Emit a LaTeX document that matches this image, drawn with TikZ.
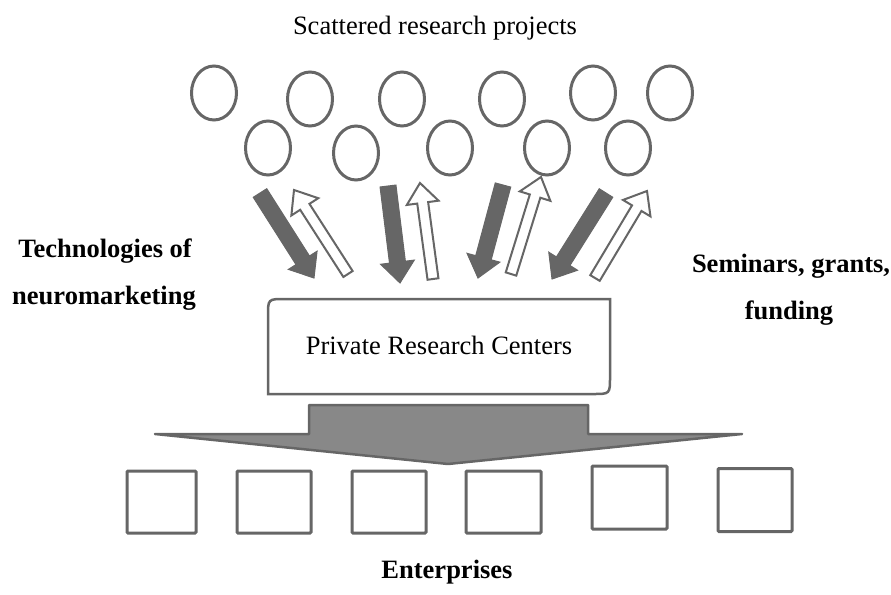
\documentclass[tikz,border=0pt]{standalone}
\usepackage{fontspec}
\IfFontExistsTF{Liberation Serif}{\setmainfont{Liberation Serif}}{\setmainfont{DejaVu Serif}}
\usetikzlibrary{calc,shapes.geometric}
\definecolor{lg}{RGB}{102,102,102}
\definecolor{bigfill}{RGB}{136,136,136}
\newcommand\blockarrow[6]{%
  \coordinate (hb) at ($(#3)!#6!(#2)$);
  \draw[#1] ($(#2)!#4!90:(#3)$) -- ($(hb)!#4!90:(#3)$) -- ($(hb)!#5!90:(#3)$) -- (#3)
    -- ($(hb)!#5!-90:(#3)$) -- ($(hb)!#4!-90:(#3)$) -- ($(#2)!#4!-90:(#3)$) -- cycle;}
\begin{document}
\begin{tikzpicture}[x=1pt,y=-1pt,
  proj/.style={draw=lg, line width=3pt, ellipse, minimum width=45pt, minimum height=54pt, inner sep=0pt},
  ent/.style={draw=lg, line width=3pt, rounded corners=1pt},
  solidarr/.style={draw=lg, fill=lg, line width=1pt, line join=miter},
  hollowarr/.style={draw=lg, fill=white, line width=2pt, line join=miter},
  txt/.style={font=\rmfamily\fontsize{26.5}{30}\selectfont, inner sep=0pt},
  btxt/.style={font=\rmfamily\fontsize{26.5}{30}\selectfont\bfseries, inner sep=0pt, align=center}]
\useasboundingbox (0,0) rectangle (891,594);

% title
\node[txt] (title) at (435,28) {Scattered research projects};

% projects
\node[proj] (c1) at (214,93) {};
\node[proj] (c2) at (310,99) {};
\node[proj] (c3) at (402,99) {};
\node[proj] (c4) at (502,99) {};
\node[proj] (c5) at (593,93) {};
\node[proj] (c6) at (670,93) {};
\node[proj] (c7) at (268,148) {};
\node[proj] (c8) at (356,153) {};
\node[proj] (c9) at (450,148) {};
\node[proj] (c10) at (547,148) {};
\node[proj] (c11) at (628,148) {};

% side labels
\node[btxt] (tech1) at (105,251) {Technologies of};
\node[btxt] (tech2) at (104,298) {neuromarketing};
\node[btxt] (sem1) at (791,266) {Seminars, grants,};
\node[btxt] (sem2) at (789,313) {funding};

% arrows
\coordinate (a1s) at (260,193); \coordinate (a1e) at (314,278);
\coordinate (h1s) at (348,274); \coordinate (h1e) at (294,190);
\coordinate (a2s) at (388,186); \coordinate (a2e) at (400,283);
\coordinate (h2s) at (433,279); \coordinate (h2e) at (420,183);
\coordinate (a3s) at (503,185); \coordinate (a3e) at (478,278);
\coordinate (h3s) at (511,274); \coordinate (h3e) at (541,177);
\coordinate (a4s) at (606,193); \coordinate (a4e) at (552,279);
\coordinate (h4s) at (595,278); \coordinate (h4e) at (647,191);
\blockarrow{solidarr}{a1s}{a1e}{8pt}{17pt}{21pt}
\blockarrow{hollowarr}{h1s}{h1e}{5.5pt}{16pt}{20pt}
\blockarrow{solidarr}{a2s}{a2e}{8pt}{17pt}{21pt}
\blockarrow{hollowarr}{h2s}{h2e}{5.5pt}{16pt}{20pt}
\blockarrow{solidarr}{a3s}{a3e}{8pt}{17pt}{21pt}
\blockarrow{hollowarr}{h3s}{h3e}{5.5pt}{16pt}{20pt}
\blockarrow{solidarr}{a4s}{a4e}{8pt}{17pt}{21pt}
\blockarrow{hollowarr}{h4s}{h4e}{5.5pt}{16pt}{20pt}

% private research centers box
\draw[draw=lg, line width=2.5pt, fill=white]
  (268,394) -- (268,316) .. controls (268,299) .. (285,299) -- (610,299) -- (610,377)
  .. controls (610,394) .. (593,394) -- cycle;
\node[txt] (prc) at (439,345) {Private Research Centers};

% big distribution arrow
\draw[draw=lg, fill=bigfill, line width=2.5pt, line join=round]
  (309,405) -- (588,405) -- (588,434) -- (742,434) -- (448,464) -- (155,434) -- (309,434) -- cycle;

% enterprises
\node[ent, minimum width=69pt, minimum height=62pt, inner sep=0pt] (e1) at (161.5,502) {};
\node[ent, minimum width=74pt, minimum height=62pt, inner sep=0pt] (e2) at (274,502) {};
\node[ent, minimum width=74pt, minimum height=62pt, inner sep=0pt] (e3) at (389,502) {};
\node[ent, minimum width=75pt, minimum height=62pt, inner sep=0pt] (e4) at (503.5,502) {};
\node[ent, minimum width=75pt, minimum height=63pt, inner sep=0pt] (e5) at (629.5,497.5) {};
\node[ent, minimum width=74pt, minimum height=63pt, inner sep=0pt] (e6) at (755,500) {};

\node[btxt] (ents) at (447,572) {Enterprises};
\end{tikzpicture}
\end{document}
